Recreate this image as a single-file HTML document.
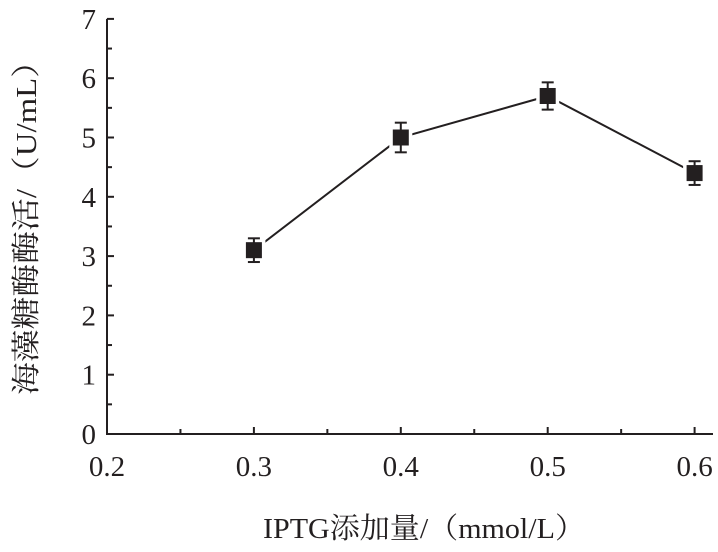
<!DOCTYPE html>
<html><head><meta charset="utf-8"><style>
body{margin:0;background:#fff}
svg text{font-family:"Liberation Serif","Noto Serif CJK SC",serif;fill:#231f20}
</style></head><body>
<svg width="718" height="547" viewBox="0 0 718 547">
<g id="axes"></g>
<g id="series"></g>
<text x="424" y="538" font-size="29" text-anchor="middle" textLength="322" lengthAdjust="spacingAndGlyphs">IPTG添加量/（mmol/L）</text>
<text transform="translate(36,220) rotate(-90)" font-size="29" text-anchor="middle" textLength="350" lengthAdjust="spacingAndGlyphs">海藻糖酶酶活/（U/mL）</text>
</svg>
<script>
const categories=[0.3,0.4,0.5,0.6];
const values=[3.1,5.0,5.7,4.4];
const errors=[0.2,0.25,0.23,0.2];
const xTicks=["0.2","0.3","0.4","0.5","0.6"];
const yTicks=["0","1","2","3","4","5","6","7"];
const NS="http://www.w3.org/2000/svg";
const X=v=>107+(v-0.2)/0.1*146.9;
const Y=v=>434-v*59.3;
function mk(t,a,p){const e=document.createElementNS(NS,t);for(const k in a)e.setAttribute(k,a[k]);p.appendChild(e);return e;}
const ax=document.getElementById('axes'),se=document.getElementById('series');
const st={stroke:"#231f20","stroke-width":2,fill:"none"};
let e=mk('line',Object.assign({x1:107,y1:Y(7),x2:107,y2:434},st),ax);

e=mk('line',Object.assign({x1:106,y1:434,x2:713,y2:434},st),ax);

xTicks.forEach((t,i)=>{const v=parseFloat(t),x=X(v);
 mk('line',Object.assign({x1:x,y1:434,x2:x,y2:427},st),ax);
 if(i<xTicks.length-1){const xm=X(v+0.05);mk('line',Object.assign({x1:xm,y1:434,x2:xm,y2:429},st),ax);}
 const tx=mk('text',{x:x,y:476,"font-size":29,"text-anchor":"middle"},ax);tx.textContent=t;
 });
yTicks.forEach((t,i)=>{const v=parseFloat(t),y=Y(v);
 mk('line',Object.assign({x1:107,y1:y,x2:114,y2:y},st),ax);
 if(i<yTicks.length-1){const ym=Y(v+0.5);mk('line',Object.assign({x1:107,y1:ym,x2:112,y2:ym},st),ax);}
 const tx=mk('text',{x:96,y:y+10,"font-size":29,"text-anchor":"end"},ax);tx.textContent=t;
 });
const pts=categories.map((c,i)=>X(c)+","+Y(values[i])).join(" ");
e=mk('polyline',{points:pts,fill:"none",stroke:"#231f20","stroke-width":2},se);

categories.forEach((c,i)=>{const x=X(c),y=Y(values[i]),y1=Y(values[i]+errors[i]),y2=Y(values[i]-errors[i]);
 const g=mk('g',{},se);
 
 mk('rect',{x:x-8,y:y-8,width:16,height:16,fill:"#231f20",stroke:"#fff","stroke-width":7},g);
 mk('line',{x1:x,y1:y1,x2:x,y2:y2,stroke:"#231f20","stroke-width":2},g);
 mk('line',{x1:x-6,y1:y1,x2:x+6,y2:y1,stroke:"#231f20","stroke-width":2},g);
 mk('line',{x1:x-6,y1:y2,x2:x+6,y2:y2,stroke:"#231f20","stroke-width":2},g);
 mk('rect',{x:x-8,y:y-8,width:16,height:16,fill:"#231f20"},g);});
</script>
</body></html>
